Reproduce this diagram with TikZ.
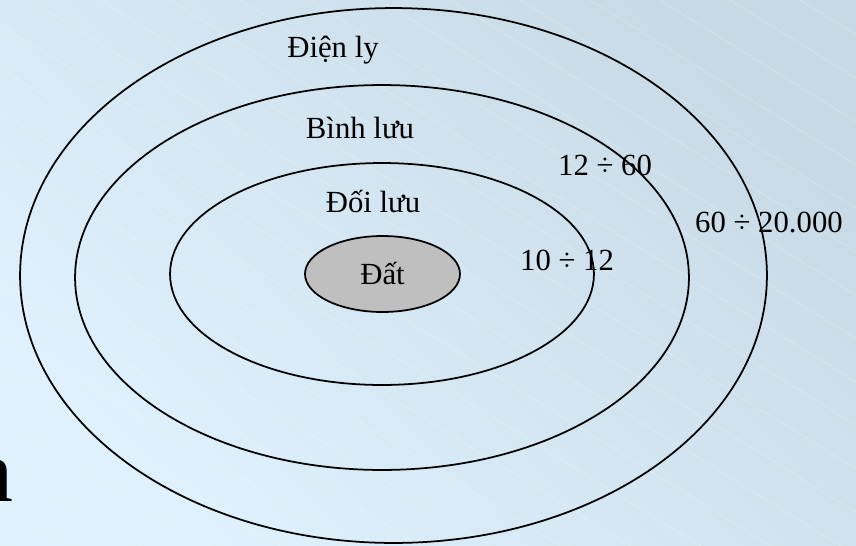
\documentclass[tikz,border=0pt]{standalone}
\usepackage{fontspec}
\setmainfont{Liberation Serif}
\usetikzlibrary{shapes.geometric}

\definecolor{bglight}{RGB}{222,241,252}
\definecolor{bgdark}{RGB}{199,218,230}

\begin{document}
\begin{tikzpicture}[
x=0.02cm, y=-0.02cm,
every node/.style={font=\fontsize{17.5}{21}\selectfont},
layer/.style={
ellipse,
draw=black,
line width=1pt,
inner sep=0pt
},
core/.style={
layer,
fill=gray!50
},
lbl/.style={
anchor=base,
inner sep=0pt
}
]

% Background
\useasboundingbox (0,0) rectangle (856,545);
\clip (0,0) rectangle (856,545);
\shade[left color=bglight, right color=bgdark, shading angle=135] (0,0) rectangle (856,545);
\foreach \k in {-880,-810,...,860}
  \draw[white, opacity=0.3, line width=0.3pt] (\k,0) -- ++(900,558);

% Layers
\node[layer, minimum width=14.94cm, minimum height=10.7cm] (iono) at (393.5,275.5) {};
\node[layer, minimum width=12.28cm, minimum height=7.7cm] (strato) at (382,277.5) {};
\node[layer, minimum width=8.48cm, minimum height=4.44cm] (tropo) at (382,274) {};
\node[core, minimum width=3.1cm, minimum height=1.52cm] (earth) at (382.5,274) {Đất};

% Labels
\node[lbl] (ionolbl) at (333,57) {Điện ly};
\node[lbl] (stratolbl) at (360,138) {Bình lưu};
\node[lbl] (tropolbl) at (373,212) {Đối lưu};
\node[lbl] (ionorange) at (769,232) {60 ÷ 20.000};
\node[lbl] (stratorange) at (605,175) {12 ÷ 60};
\node[lbl] (troporange) at (567,270) {10 ÷ 12};

% Cut-off title
\node[lbl, anchor=base east, font=\fontsize{50}{60}\selectfont] (title) at (14,501) {n};

\end{tikzpicture}
\end{document}
